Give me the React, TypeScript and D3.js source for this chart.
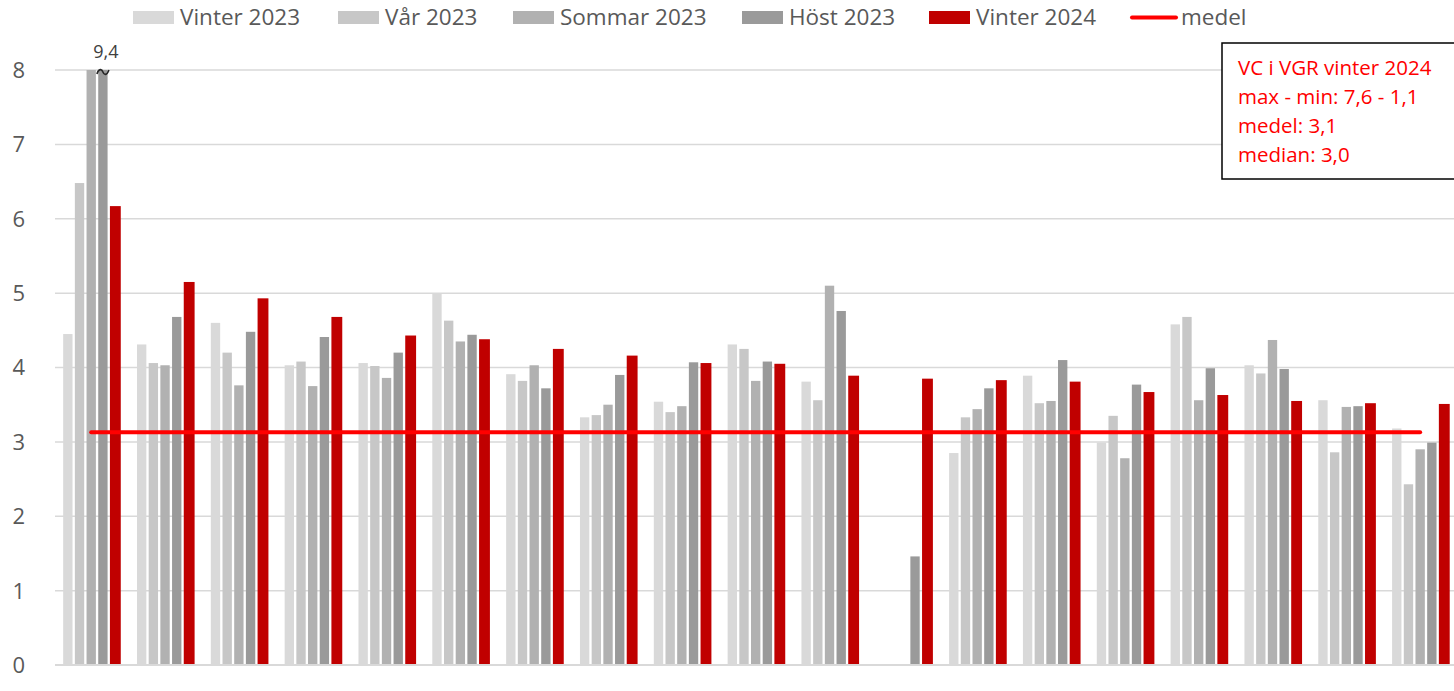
import React from "react";
import * as d3 from "d3";

const categories = ["VC 1","VC 2","VC 3","VC 4","VC 5","VC 6","VC 7","VC 8","VC 9","VC 10","VC 11","VC 12","VC 13","VC 14","VC 15","VC 16","VC 17","VC 18","VC 19"];
const seriesNames = ["Vinter 2023", "Vår 2023", "Sommar 2023", "Höst 2023", "Vinter 2024"];
const seriesColors = ["#d9d9d9", "#c7c7c7", "#b1b1b1", "#9a9a9a", "#c00000"];

const vinter2023 = [4.45, 4.31, 4.60, 4.03, 4.06, 5.00, 3.91, 3.33, 3.54, 4.31, 3.81, null, 2.85, 3.89, 2.99, 4.58, 4.03, 3.56, 3.18];
const var2023 =    [6.48, 4.06, 4.20, 4.08, 4.02, 4.63, 3.82, 3.36, 3.40, 4.25, 3.56, null, 3.33, 3.52, 3.35, 4.68, 3.92, 2.86, 2.43];
const sommar2023 = [8.6, 4.03, 3.76, 3.75, 3.86, 4.35, 4.03, 3.50, 3.48, 3.82, 5.10, null, 3.44, 3.55, 2.78, 3.56, 4.37, 3.47, 2.90];
const host2023 =   [9.4, 4.68, 4.48, 4.41, 4.20, 4.44, 3.72, 3.90, 4.07, 4.08, 4.76, 1.46, 3.72, 4.10, 3.77, 3.99, 3.98, 3.48, 2.99];
const vinter2024 = [6.17, 5.15, 4.93, 4.68, 4.43, 4.38, 4.25, 4.16, 4.06, 4.05, 3.89, 3.85, 3.83, 3.81, 3.67, 3.63, 3.55, 3.52, 3.51];
const medel = 3.13;

const yTicks = [0, 1, 2, 3, 4, 5, 6, 7, 8];
const breakLabel = "9,4";
const infoLines = ["VC i VGR vinter 2024", "max - min: 7,6 - 1,1", "medel: 3,1", "median: 3,0"];
const legendX = [133, 338, 513, 742, 929, 1132];

const W = 1454, H = 691;
const FONT = "'Open Sans', 'Liberation Sans', sans-serif";

export default function App() {
  const series = [vinter2023, var2023, sommar2023, host2023, vinter2024];
  const y = d3.scaleLinear().domain([0, 8]).range([665, 70]);
  const x0 = d3.scaleBand<string>().domain(categories).range([54.3, 54.3 + 19 * 73.83]).paddingInner(0.24).paddingOuter(0.12);
  const x1 = d3.scaleBand<string>().domain(seriesNames).range([0, x0.bandwidth()]).paddingInner(0.2);
  const ymax = 8;

  const medelX1 = x0(categories[0])! + x0.bandwidth() / 2;
  const medelX2 = x0(categories[categories.length - 1])! + x0.bandwidth() / 2;

  const breakIdx = host2023.indexOf(9.4);
  const breakX = x0(categories[breakIdx])! + x1("Höst 2023")! + x1.bandwidth() / 2;
  const by = y(8) + 2;
  const tilde = `M${breakX - 6},${by + 2} C${breakX - 4},${by - 4} ${breakX - 1},${by - 3} ${breakX},${by} S${breakX + 4},${by + 4} ${breakX + 6},${by - 2}`;

  return (
    <svg width={W} height={H} style={{ position: "absolute", left: 0, top: 0, background: "#fff" }} fontFamily={FONT}>
      {yTicks.filter(t => t > 0).map(t => (
        <line key={t} x1={55} x2={W} y1={y(t)} y2={y(t)} stroke="#d9d9d9" strokeWidth={1.5} />
      ))}
      {yTicks.map(t => (
        <text key={t} x={25} y={y(t)} dy="0.36em" textAnchor="end" fontSize={22} fill="#595959">{t}</text>
      ))}
      {series.map((s, si) => (
        <g key={si} fill={seriesColors[si]}>
          {s.map((v, ci) => v == null ? null : (
            <rect key={ci}
              x={x0(categories[ci])! + x1(seriesNames[si])!}
              width={si === 4 ? x1.bandwidth() + 1.5 : x1.bandwidth()}
              y={y(Math.min(v, ymax))}
              height={y(0) - y(Math.min(v, ymax))} />
          ))}
        </g>
      ))}
      <line x1={55} x2={W} y1={y(0)} y2={y(0)} stroke="#d9d9d9" strokeWidth={2} />
      <line x1={medelX1} x2={medelX2} y1={y(medel)} y2={y(medel)} stroke="#ff0000" strokeWidth={4} strokeLinecap="round" />
      <path d={tilde} fill="none" stroke="#262626" strokeWidth={1.6} />
      <text x={breakX + 3} y={58} textAnchor="middle" fontSize={18} fill="#404040">{breakLabel}</text>
      {seriesNames.map((n, i) => (
        <g key={n}>
          <rect x={legendX[i]} y={11} width={41} height={13} fill={seriesColors[i]} />
          <text x={legendX[i] + 47} y={25} fontSize={22.5} fill="#595959">{n}</text>
        </g>
      ))}
      <line x1={legendX[5]} x2={legendX[5] + 44} y1={17.5} y2={17.5} stroke="#ff0000" strokeWidth={4} strokeLinecap="round" />
      <text x={legendX[5] + 49} y={25} fontSize={22.5} fill="#595959">medel</text>
      <rect x={1222} y={43} width={260} height={136} fill="#fff" stroke="#000" strokeWidth={1.5} />
      {infoLines.map((l, i) => (
        <text key={i} x={1238} y={75 + i * 29} fontSize={20.5} fill="#ff0000">{l}</text>
      ))}
    </svg>
  );
}
